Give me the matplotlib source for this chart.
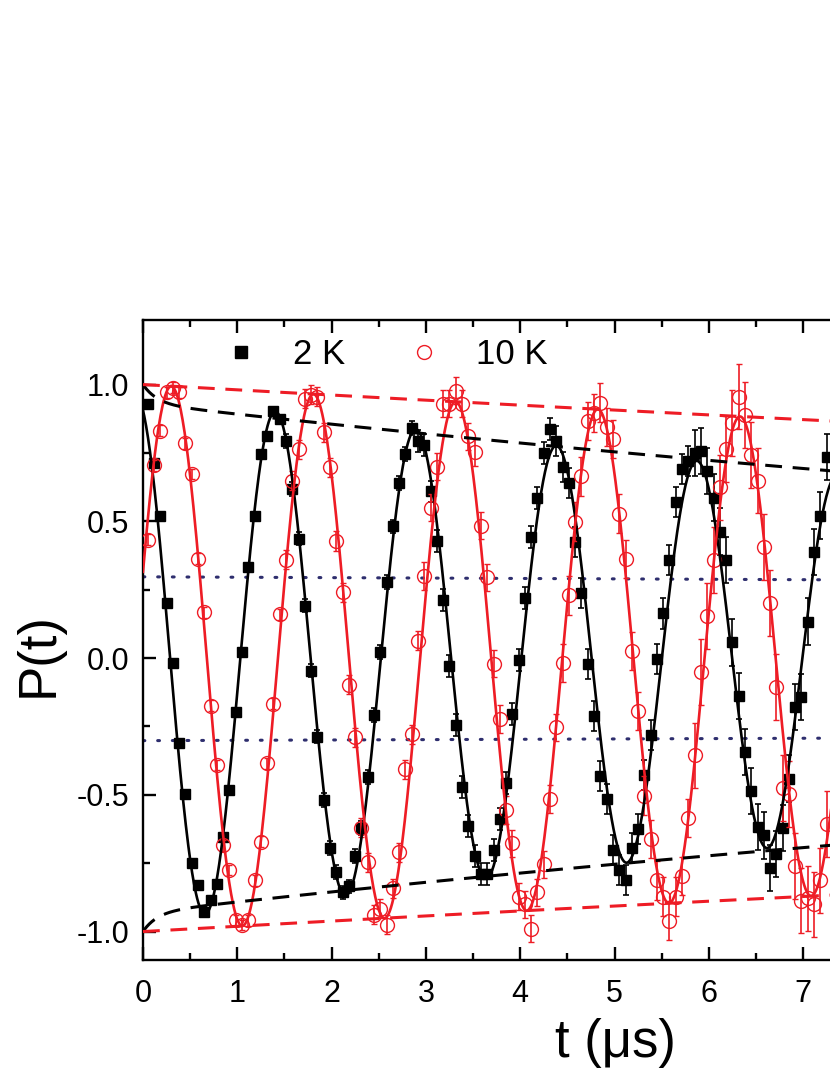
import numpy as np
import matplotlib
matplotlib.use("Agg")
import matplotlib.pyplot as plt
from matplotlib.lines import Line2D

# ---------------- data ----------------
t_us = [0.050, 0.117, 0.183, 0.250, 0.317, 0.383, 0.450, 0.517, 0.583, 0.650,
        0.717, 0.783, 0.850, 0.917, 0.983, 1.050, 1.117, 1.183, 1.250, 1.317,
        1.383, 1.450, 1.517, 1.583, 1.650, 1.717, 1.783, 1.850, 1.917, 1.983,
        2.050, 2.117, 2.183, 2.250, 2.317, 2.383, 2.450, 2.517, 2.583, 2.650,
        2.717, 2.783, 2.850, 2.917, 2.983, 3.050, 3.117, 3.183, 3.250, 3.317,
        3.383, 3.450, 3.517, 3.583, 3.650, 3.717, 3.783, 3.850, 3.917, 3.983,
        4.050, 4.117, 4.183, 4.250, 4.317, 4.383, 4.450, 4.517, 4.583, 4.650,
        4.717, 4.783, 4.850, 4.917, 4.983, 5.050, 5.117, 5.183, 5.250, 5.317,
        5.383, 5.450, 5.517, 5.583, 5.650, 5.717, 5.783, 5.850, 5.917, 5.983,
        6.050, 6.117, 6.183, 6.250, 6.317, 6.383, 6.450, 6.517, 6.583, 6.650,
        6.717, 6.783, 6.850, 6.917, 6.983, 7.050, 7.117, 7.183, 7.250]

p_2K = [0.929, 0.713, 0.518, 0.200, -0.017, -0.312, -0.496, -0.751, -0.830, -0.928,
        -0.885, -0.826, -0.653, -0.483, -0.198, 0.023, 0.332, 0.518, 0.745, 0.811,
        0.904, 0.875,
        0.794, 0.617, 0.437, 0.192, -0.046, -0.287, -0.518, -0.695, -0.783, -0.857,
        -0.835, -0.724, -0.621, -0.434, -0.208, 0.023, 0.278, 0.481, 0.639, 0.745,
        0.841,
        0.794, 0.779, 0.609, 0.428, 0.211, -0.029, -0.245, -0.471, -0.614, -0.724,
        -0.791, -0.791, -0.702, -0.589, -0.456, -0.204, -0.007, 0.219, 0.443, 0.584,
        0.749, 0.838,
        0.794, 0.698, 0.639, 0.425, 0.238, -0.021, -0.211, -0.430, -0.515, -0.702,
        -0.776, -0.810, -0.695, -0.626, -0.427, -0.282, -0.002, 0.163, 0.359, 0.570,
        0.690, 0.720,
        0.749, 0.757, 0.683, 0.587, 0.462, 0.359, 0.057, -0.138, -0.344, -0.486,
        -0.618, -0.648, -0.768, -0.717, -0.621, -0.441, -0.179, -0.142, 0.133, 0.388,
        0.521, 0.735]

p_10K = [0.433, 0.705, 0.831, 0.972, 0.988, 0.972, 0.786, 0.673, 0.363, 0.167,
         -0.175, -0.391, -0.684, -0.775, -0.958, -0.976, -0.958, -0.812, -0.672, -0.385,
         -0.167, 0.160,
         0.359, 0.649, 0.764, 0.948, 0.963, 0.956, 0.826, 0.698, 0.428, 0.241,
         -0.098, -0.290, -0.621, -0.746, -0.938, -0.916, -0.975, -0.842, -0.710, -0.407,
         -0.279, 0.064,
         0.300, 0.550, 0.700, 0.930, 0.930, 0.978, 0.930, 0.811, 0.752, 0.484,
         0.295, -0.020, -0.223, -0.555, -0.677, -0.872, -0.901, -0.990, -0.857, -0.754,
         -0.515, -0.253,
         -0.017, 0.229, 0.499, 0.664, 0.867, 0.897, 0.934, 0.845, 0.801, 0.528,
         0.363, 0.027, -0.194, -0.503, -0.662, -0.813, -0.872, -0.960, -0.872, -0.798,
         -0.584,
         -0.356, -0.050, 0.153, 0.359, 0.624, 0.764, 0.860, 0.956, 0.889, 0.742,
         0.649, 0.406, 0.201, -0.105, -0.474, -0.496, -0.761, -0.887, -0.879, -0.901,
         -0.813, -0.606]

err_2K = [0.015] * 22 + [0.025] * 21 + [0.04] * 22 + [0.055] * 22 + [0.085] * 22
err_10K = [0.02] * 22 + [0.035] * 22 + [0.05] * 22 + [0.07] * 21 + [0.12] * 22

# fitted model parameters
fit_2K = {"amp": 0.967, "rate": 0.05, "period": 1.49, "shift": 0.085}
fit_10K = {"amp": 1.0, "rate": 0.0196, "period": 1.508, "shift": -0.30}
env_2K = {"slow_amp": 0.93, "slow_rate": 0.042, "fast_amp": 0.07, "fast_tau": 0.15}
env_10K = {"amp": 1.0, "rate": 0.0196}
dot_t = [0.0, 8.0]
dot_upper = [0.297, 0.285]
dot_lower = [-0.302, -0.292]

legend_labels = ["2 K", "10 K"]
x_ticks = [0, 1, 2, 3, 4, 5, 6, 7, 8]
x_tick_labels = ["0", "1", "2", "3", "4", "5", "6", "7", ""]
y_ticks = [-1.0, -0.5, 0.0, 0.5, 1.0]
y_tick_labels = ["-1.0", "-0.5", "0.0", "0.5", "1.0"]

# ---------------- style ----------------
plt.rcParams["font.family"] = ["Liberation Sans", "DejaVu Sans"]
plt.rcParams["axes.unicode_minus"] = False
tick_fs = 22
label_fs = 38

RED = "#ee1c25"
NAVY = "#2e2e6e"

fig = plt.figure(figsize=(8.3, 10.75), dpi=100)
W, H = 830.0, 1075.0
x_px0, x_per = 143.0, 94.3
AXW = 8 * x_per
ax = fig.add_axes([x_px0 / W, (H - 960.0) / H, AXW / W, 640.0 / H])
ax.set_xlim(0, 8)
ax.set_ylim(-1.104, 1.236)

tt = np.linspace(0, 8, 1200)

def osc(p, t):
    return p["amp"] * np.exp(-p["rate"] * t) * np.cos(2 * np.pi * (t + p["shift"]) / p["period"])

e2 = env_2K["slow_amp"] * np.exp(-env_2K["slow_rate"] * tt) + env_2K["fast_amp"] * np.exp(-tt / env_2K["fast_tau"])
e10 = env_10K["amp"] * np.exp(-env_10K["rate"] * tt)

# dotted lines
ax.plot(dot_t, dot_upper, color=NAVY, lw=2.2, ls=(0, (0.6, 4.2)), dash_capstyle="round", zorder=1)
ax.plot(dot_t, dot_lower, color=NAVY, lw=2.2, ls=(0, (0.6, 4.2)), dash_capstyle="round", zorder=1)

# data with error bars
ax.errorbar(t_us, p_2K, yerr=err_2K, fmt="s", ms=7.8, color="black", mfc="black", mec="black",
            ecolor="black", elinewidth=1.2, capsize=2.4, capthick=1.2, zorder=3)
ax.errorbar(t_us, p_10K, yerr=err_10K, fmt="o", ms=10, color=RED, mfc="none", mec=RED, mew=1.0,
            ecolor=RED, elinewidth=1.2, capsize=2.4, capthick=1.2, zorder=4)

# fit curves
ax.plot(tt, osc(fit_2K, tt), color="black", lw=1.9, zorder=5)
ax.plot(tt, osc(fit_10K, tt), color=RED, lw=1.9, zorder=6)

# envelopes
for s in (1, -1):
    ax.plot(tt, s * e2, color="black", lw=2.2, ls=(0, (5.5, 3.5)), zorder=7)
    ax.plot(tt, s * e10, color=RED, lw=2.2, ls=(0, (5.5, 3.5)), zorder=7)

# axes styling
for sp in ax.spines.values():
    sp.set_linewidth(1.7)
ax.set_xticks(x_ticks)
ax.set_xticks(np.array(x_ticks[:-1]) + 0.5, minor=True)
ax.set_yticks(y_ticks)
ax.set_yticks([-0.75, -0.25, 0.25, 0.75], minor=True)
ax.set_xticklabels(x_tick_labels)
ax.set_yticklabels(y_tick_labels)
ax.tick_params(which="both", direction="in", top=True, right=True, width=1.7)
ax.tick_params(which="major", length=9.5)
ax.tick_params(which="minor", length=5)
ax.tick_params(axis="x", which="major", pad=14, labelsize=tick_fs)
ax.tick_params(axis="y", which="major", pad=10, labelsize=tick_fs)

ax.set_xlabel("t (\u03bcs)", fontsize=label_fs)
ax.xaxis.set_label_coords((615 - x_px0) / AXW, -(1018 - 960) / 640.0)
ax.set_ylabel("P(t)", fontsize=label_fs)
ax.yaxis.set_label_coords(-(143 - 64) / AXW, (960 - 655) / 640.0)

handles = [Line2D([], [], ls="none", marker="s", ms=8, color="black"),
           Line2D([], [], ls="none", marker="o", ms=10, mfc="none", mec=RED, mew=1.0)]
leg = ax.legend(handles, legend_labels, loc="center left", ncol=2, frameon=False,
                bbox_to_anchor=((224 - x_px0) / AXW, (960 - 355) / 640.0),
                fontsize=25, handlelength=1.0, handletextpad=1.0, columnspacing=1.75,
                borderaxespad=0, borderpad=0)

fig.savefig("out.png", dpi=100)
